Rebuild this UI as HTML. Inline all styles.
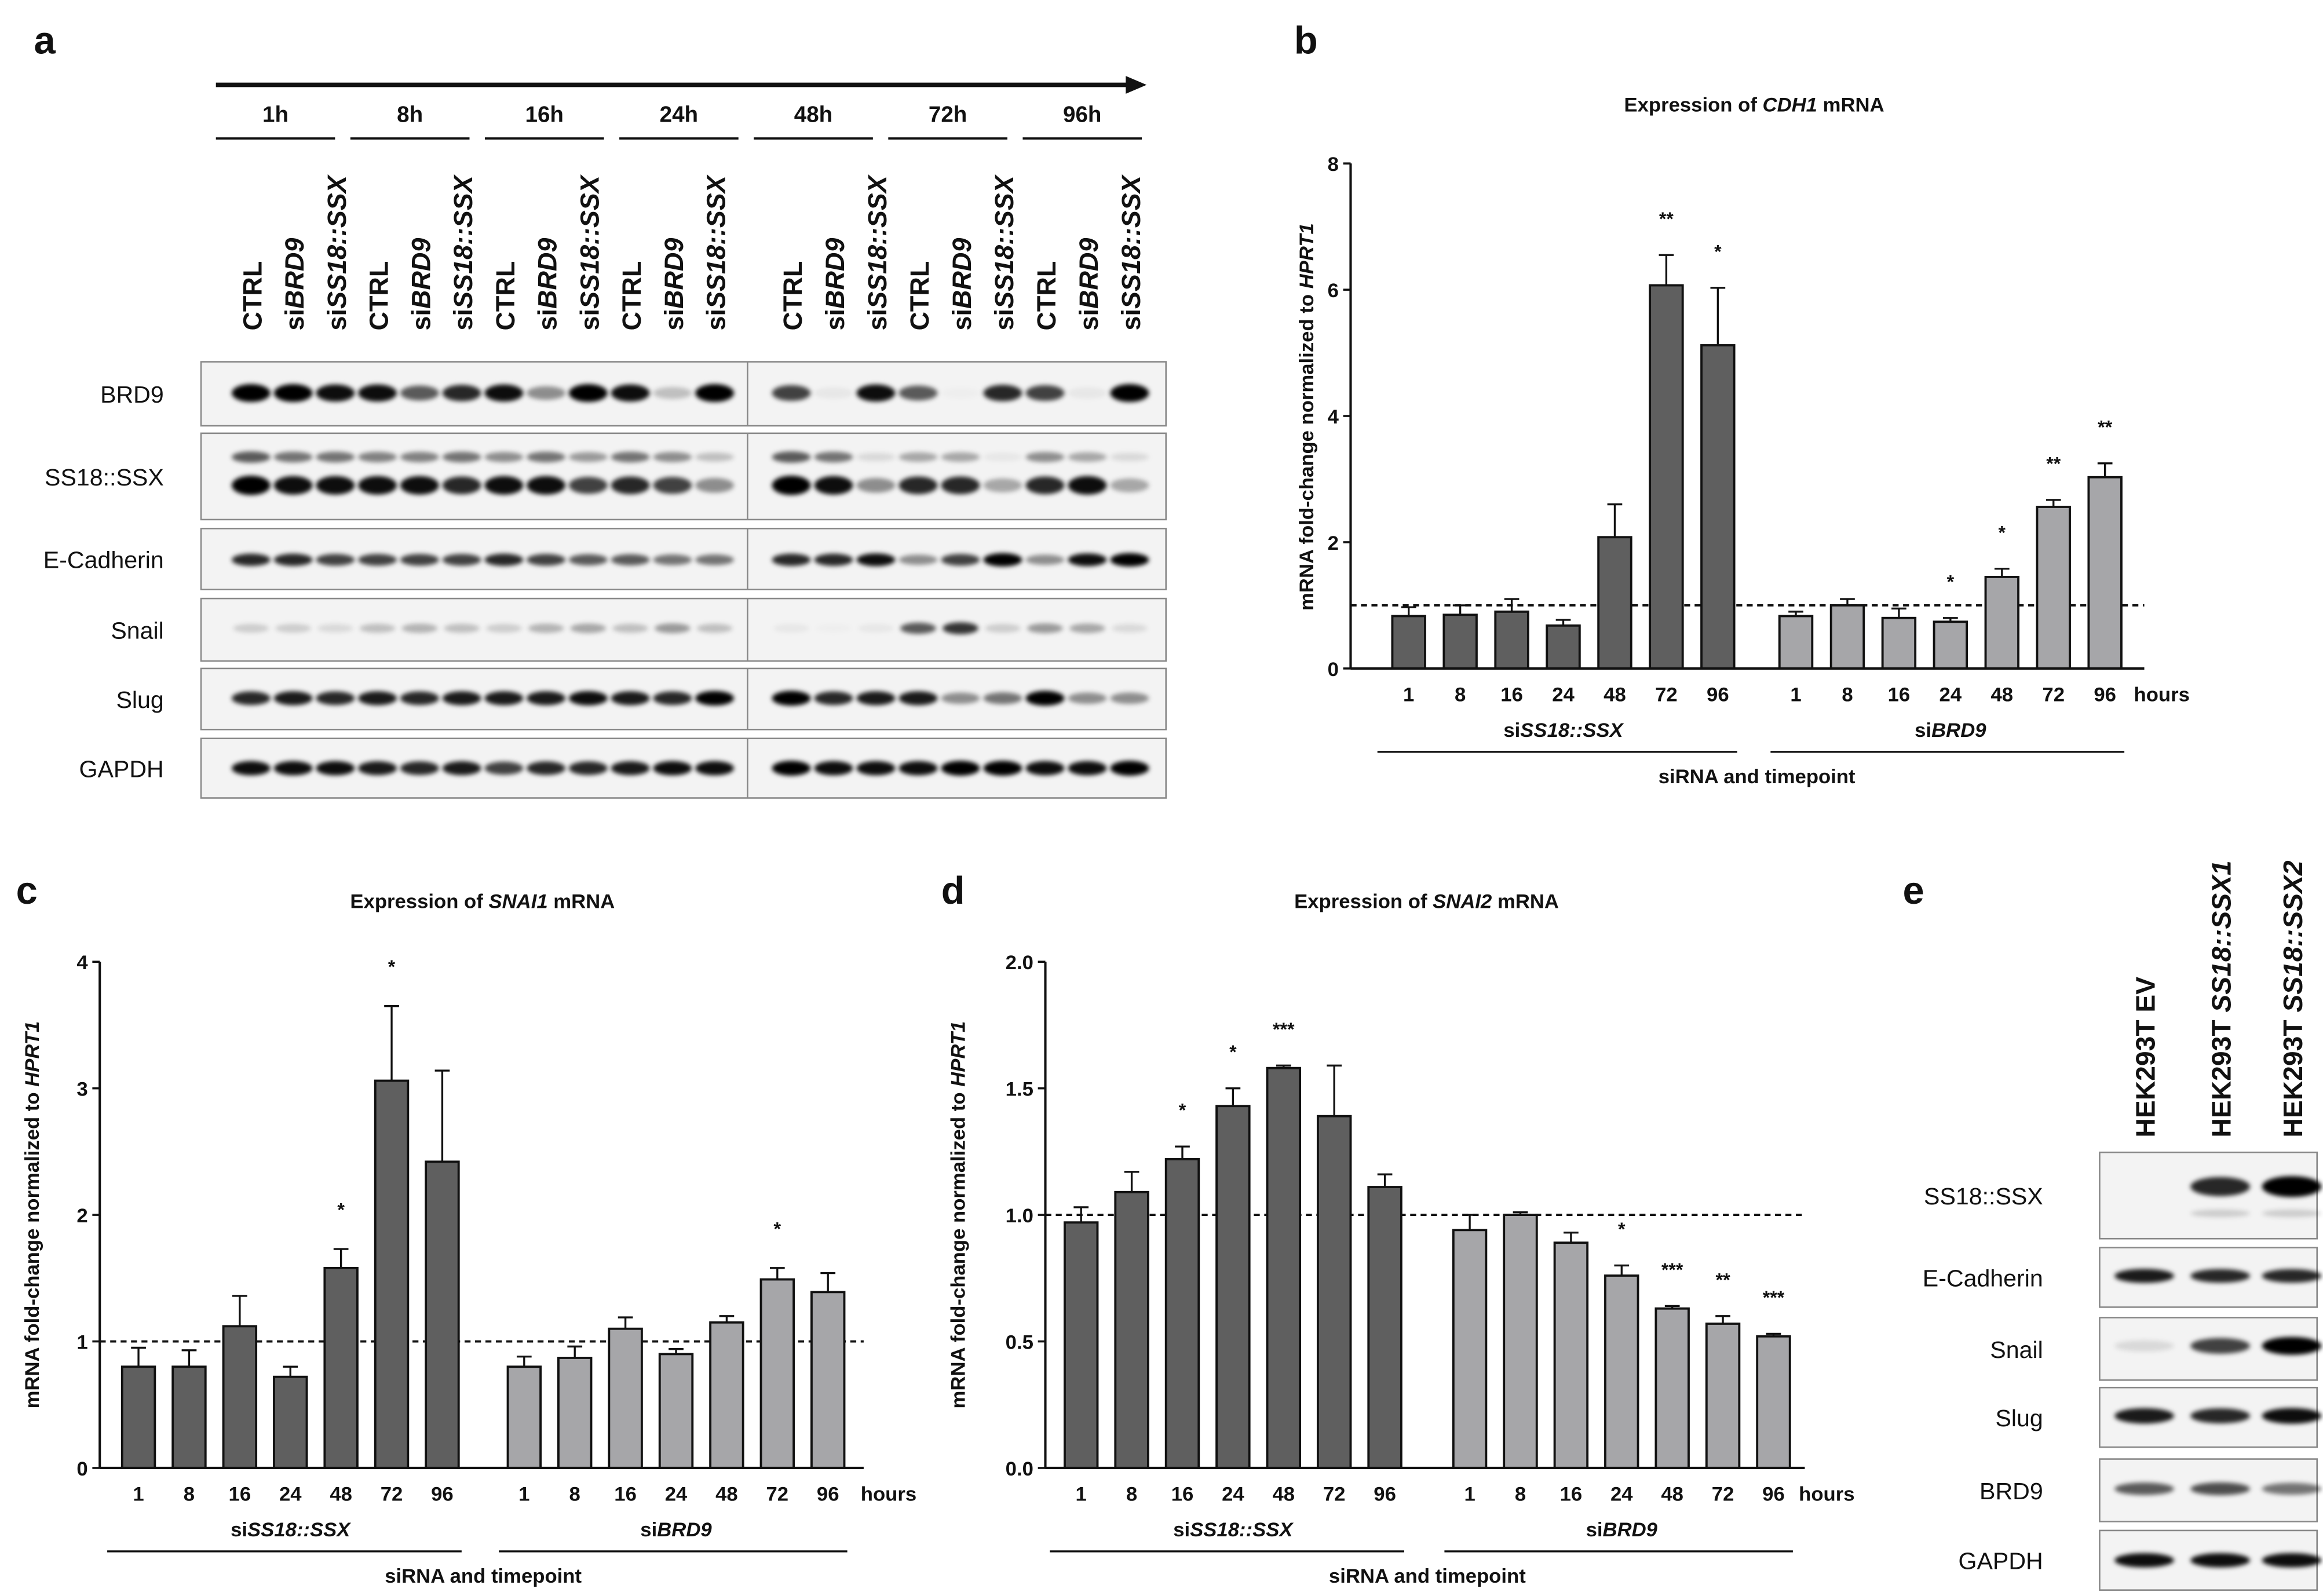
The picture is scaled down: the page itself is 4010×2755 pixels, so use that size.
<!DOCTYPE html>
<html><head><meta charset="utf-8"><style>
html,body{margin:0;padding:0;background:#fff;}
svg{display:block;}
text{font-family:"Liberation Sans",Arial,sans-serif;}
</style></head><body>
<svg id="fig" xmlns="http://www.w3.org/2000/svg" width="4010" height="2755" viewBox="0 0 1560 1072" preserveAspectRatio="none">
<defs><filter id="blur" x="-50%" y="-100%" width="200%" height="300%"><feGaussianBlur stdDeviation="1.6"/></filter></defs>
</svg>
<script>
// ===== chart data =====
const hours = ["1","8","16","24","48","72","96"];
const cdh1_ss = [0.83,0.85,0.9,0.68,2.08,6.07,5.12];
const cdh1_ss_err = [0.97,1.0,1.1,0.77,2.6,6.55,6.03];
const cdh1_brd = [0.83,1.0,0.8,0.74,1.45,2.56,3.03];
const cdh1_brd_err = [0.9,1.1,0.95,0.8,1.58,2.67,3.25];
const cdh1_ss_sig = ["","","","","","**","*"];
const cdh1_brd_sig = ["","","","*","*","**","**"];
const cdh1_ticks = ["0","2","4","6","8"];
const snai1_ss = [0.8,0.8,1.12,0.72,1.58,3.06,2.42];
const snai1_ss_err = [0.95,0.93,1.36,0.8,1.73,3.65,3.14];
const snai1_brd = [0.8,0.87,1.1,0.9,1.15,1.49,1.39];
const snai1_brd_err = [0.88,0.96,1.19,0.94,1.2,1.58,1.54];
const snai1_ss_sig = ["","","","","*","*",""];
const snai1_brd_sig = ["","","","","","*",""];
const snai1_ticks = ["0","1","2","3","4"];
const snai2_ss = [0.97,1.09,1.22,1.43,1.58,1.39,1.11];
const snai2_ss_err = [1.03,1.17,1.27,1.5,1.59,1.59,1.16];
const snai2_brd = [0.94,1.0,0.89,0.76,0.63,0.57,0.52];
const snai2_brd_err = [1.0,1.01,0.93,0.8,0.64,0.6,0.53];
const snai2_ss_sig = ["","","*","*","***","",""];
const snai2_brd_sig = ["","","","*","***","**","***"];
const snai2_ticks = ["0.0","0.5","1.0","1.5","2.0"];
// blot band intensities (0-1)
const blot_brd9 = [1,1,0.9,0.9,0.6,0.8,0.9,0.4,1,0.9,0.2,1, 0.7,0.05,0.9,0.6,0.02,0.8,0.7,0.05,1];
const blot_ss_low = [1,.9,.9,.9,.9,.8,.9,.9,.7,.8,.7,.4, 1,.9,.4,.8,.8,.3,.8,.9,.3];
const blot_ss_up = [.6,.5,.5,.45,.45,.5,.4,.5,.35,.5,.4,.2, .6,.5,.1,.3,.3,.05,.4,.3,.1];
const blot_ecad = [.8,.8,.7,.7,.7,.7,.8,.7,.6,.6,.5,.5, .8,.8,.9,.4,.7,1,.4,.9,1];
const blot_snail = [.15,.15,.1,.2,.25,.2,.15,.25,.3,.2,.35,.2, .05,.02,.05,.6,.75,.15,.35,.3,.1];
const blot_slug = [.8,.85,.8,.85,.8,.85,.85,.85,.9,.85,.8,.95, 1,.8,.85,.85,.4,.5,1,.4,.4];
const blot_gapdh = [.9,.9,.9,.85,.8,.85,.7,.8,.8,.85,.9,.9, 1,.9,.9,.9,1,1,.9,.9,1];
const e_ss = [0,.8,1], e_ecad=[.85,.8,.8], e_snail=[.1,.7,1], e_slug=[.85,.8,.9], e_brd9=[.6,.65,.5], e_gapdh=[.9,.9,.9];

const NS="http://www.w3.org/2000/svg";
const svg=document.getElementById('fig');
function el(tag,attrs,parent,txt){const e=document.createElementNS(NS,tag);for(const k in attrs)e.setAttribute(k,attrs[k]);if(txt!==undefined)e.textContent=txt;(parent||svg).appendChild(e);return e;}
function T(x,y,s,size,opts,parent){opts=opts||{};const e=el('text',{x:x,y:y,'font-size':size,'font-weight':opts.w||'bold','text-anchor':opts.a||'middle',fill:'#111'},parent);
  if(opts.t)e.setAttribute('transform',opts.t);
  if(Array.isArray(s)){s.forEach(p=>{el('tspan',p[1]?{'font-style':'italic'}:{},e,p[0]);});}else e.textContent=s;return e;}

[["a",30,36],["b",877,36],["c",18,607],["d",640,607],["e",1285,607]].forEach(p=>{
  const t=T(p[1],p[2],p[0],26,{a:'middle'});
  
  
});

function chart(cfg){
  const g=el('g',{});
  
  
  const y=v=>cfg.y0-v*cfg.ppu;
  const title=T(cfg.tx,cfg.ty,cfg.title,13.5,{},g);
  
  
  const yl=T(cfg.ylx,cfg.ylc,[["mRNA fold-change normalized to ",0],["HPRT1",1]],13.5,{t:`rotate(-90 ${cfg.ylx} ${cfg.ylc})`},g);
  
  
  el('line',{x1:cfg.x0,x2:cfg.xend,y1:y(1),y2:y(1),stroke:'#111','stroke-width':1.5,'stroke-dasharray':'4,3'},g);
  const groups=[[cfg.ss,cfg.sse,cfg.sss,cfg.s1,'#5f5f5f','ss'],[cfg.brd,cfg.brde,cfg.brds,cfg.s2,'#a6a6a9','brd']];
  groups.forEach(gr=>{
    gr[0].forEach((v,i)=>{
      const cx=gr[3]+i*cfg.step, w=cfg.bw;
      const r=el('rect',{x:cx-w/2,y:y(v),width:w,height:cfg.y0-y(v),fill:gr[4],stroke:'#111','stroke-width':1.5},g);
      
      
      el('line',{x1:cx,x2:cx,y1:y(v),y2:y(gr[1][i]),stroke:'#111','stroke-width':1.3},g);
      el('line',{x1:cx-5,x2:cx+5,y1:y(gr[1][i]),y2:y(gr[1][i]),stroke:'#111','stroke-width':1.3},g);
      if(gr[2][i]){const s=T(cx,y(gr[1][i])-cfg.sigoff,gr[2][i],12.5,{},g);
        
        }
      const xl=T(cx,cfg.y0+22,hours[i],13.5,{},g);
      
      
    });
  });
  el('line',{x1:cfg.x0,x2:cfg.x0,y1:y(cfg.ymax),y2:cfg.y0,stroke:'#111','stroke-width':1.6},g);
  el('line',{x1:cfg.x0,x2:cfg.xend,y1:cfg.y0,y2:cfg.y0,stroke:'#111','stroke-width':1.6},g);
  cfg.ticks.forEach((t,i)=>{const v=i*cfg.ymax/(cfg.ticks.length-1);
    el('line',{x1:cfg.x0-5,x2:cfg.x0,y1:y(v),y2:y(v),stroke:'#111','stroke-width':1.4},g);
    const tl=T(cfg.x0-8,y(v)+5,t,13.5,{a:'end'},g);
    
    
  });
  const h=T(cfg.hx,cfg.y0+22,'hours',13.5,{a:'start'},g);
  
  
  const c1=(cfg.s1+cfg.s1+6*cfg.step)/2, c2=(cfg.s2+cfg.s2+6*cfg.step)/2;
  const gl1=T(c1,cfg.y0+46,[["si",0],["SS18::SSX",1]],13.5,{},g);
  
  
  const gl2=T(c2,cfg.y0+46,[["si",0],["BRD9",1]],13.5,{},g);
  
  
  el('line',{x1:cfg.s1-cfg.bw/2-10,x2:cfg.s1+6*cfg.step+cfg.bw/2+2,y1:cfg.y0+56,y2:cfg.y0+56,stroke:'#111','stroke-width':1.3},g);
  el('line',{x1:cfg.s2-cfg.bw/2-6,x2:cfg.s2+6*cfg.step+cfg.bw/2+2,y1:cfg.y0+56,y2:cfg.y0+56,stroke:'#111','stroke-width':1.3},g);
  const xt=T((c1+c2)/2,cfg.y0+77,'siRNA and timepoint',13.5,{},g);
  
  
}
chart({name:'chart-cdh1',title:[["Expression of ",0],["CDH1",1],[" mRNA",0]],tx:1178,ty:75,ylx:882,ylc:280,
  x0:907,xend:1440,y0:449,ppu:42.4,ymax:8,ticks:cdh1_ticks,s1:946,s2:1206,step:34.6,bw:22,hx:1433,sigoff:20,
  ss:cdh1_ss,sse:cdh1_ss_err,sss:cdh1_ss_sig,brd:cdh1_brd,brde:cdh1_brd_err,brds:cdh1_brd_sig});
chart({name:'chart-snai1',title:[["Expression of ",0],["SNAI1",1],[" mRNA",0]],tx:324,ty:610,ylx:26,ylc:816,
  x0:67,xend:580,y0:986,ppu:85,ymax:4,ticks:snai1_ticks,s1:93,s2:352,step:34,bw:22,hx:578,sigoff:22,
  ss:snai1_ss,sse:snai1_ss_err,sss:snai1_ss_sig,brd:snai1_brd,brde:snai1_brd_err,brds:snai1_brd_sig});
chart({name:'chart-snai2',title:[["Expression of ",0],["SNAI2",1],[" mRNA",0]],tx:958,ty:610,ylx:648,ylc:816,
  x0:702,xend:1212,y0:986,ppu:170,ymax:2,ticks:snai2_ticks,s1:726,s2:987,step:34,bw:22,hx:1208,sigoff:20,
  ss:snai2_ss,sse:snai2_ss_err,sss:snai2_ss_sig,brd:snai2_brd,brde:snai2_brd_err,brds:snai2_brd_sig});

// ===== panel a blot =====
const ga=el('g',{});


el('line',{x1:145,x2:758,y1:57,y2:57,stroke:'#111','stroke-width':3},ga);
el('polygon',{points:'756,51 770,57 756,63',fill:'#111'},ga);
const times=["1h","8h","16h","24h","48h","72h","96h"];
times.forEach((t,i)=>{const x0=145+i*90.3;
  const tl=T(x0+40,82,t,15,{},ga);
  
  
  el('line',{x1:x0,x2:x0+80,y1:93,y2:93,stroke:'#111','stroke-width':1.5},ga);});
const laneX=[];for(let i=0;i<12;i++)laneX.push(168.6+28.3*i);for(let i=0;i<9;i++)laneX.push(531.4+28.4*i);
const laneLbl=[[["CTRL",0]],[["si",0],["BRD9",1]],[["si",0],["SS18::SSX",1]]];
laneX.forEach((x,i)=>{const t=T(x+7,222,laneLbl[i%3],17.5,{a:'start',t:`rotate(-90 ${x+7} 222)`},ga);
  
  });
function blotRow(parent,name,y1,y2,lanes,rows,div,x1,x2,label,lx,bw){
  const g=el('g',{},parent);
  
  
  el('rect',{x:x1,y:y1,width:x2-x1,height:y2-y1,fill:'#f3f3f3',stroke:'#888','stroke-width':1},g);
  if(div)el('line',{x1:div,x2:div,y1:y1,y2:y2,stroke:'#888','stroke-width':1},g);
  rows.forEach(r=>{r[0].forEach((v,i)=>{if(v<=0)return;
    el('ellipse',{cx:lanes[i],cy:r[1],rx:bw,ry:r[2]*(0.6+0.4*v),fill:'#000','fill-opacity':Math.min(1,v*1.05),filter:'url(#blur)'},g);});});
  const t=T(lx,(y1+y2)/2+6,label,16,{a:'end',w:'normal'},g);
  
  
}
blotRow(ga,'brd9',243,286,laneX,[[blot_brd9,264,6]],502,135,783,'BRD9',110,13);
blotRow(ga,'ss18-ssx',291,349,laneX,[[blot_ss_up,307,4.5],[blot_ss_low,326,6.5]],502,135,783,'SS18::SSX',110,13);
blotRow(ga,'e-cadherin',355,396,laneX,[[blot_ecad,376,4.5]],502,135,783,'E-Cadherin',110,13);
blotRow(ga,'snail',402,444,laneX,[[blot_snail,422,4.5]],502,135,783,'Snail',110,12);
blotRow(ga,'slug',449,490,laneX,[[blot_slug,469,5]],502,135,783,'Slug',110,13);
blotRow(ga,'gapdh',496,536,laneX,[[blot_gapdh,516,5]],502,135,783,'GAPDH',110,13);

// ===== panel e =====
const ge=el('g',{});


const eLanes=[1440,1491,1539];
const eLbl=[[["HEK293T EV",0]],[["HEK293T ",0],["SS18::SSX1",1]],[["HEK293T ",0],["SS18::SSX2",1]]];
eLanes.forEach((x,i)=>{const t=T(x+7,764,eLbl[i],18,{a:'start',t:`rotate(-90 ${x+7} 764)`},ge);
  
  });
blotRow(ge,'e-ss18-ssx',774,832,eLanes,[[e_ss,797,7],[[0,.15,.15],815,4]],0,1410,1556,'SS18::SSX',1372,20);
blotRow(ge,'e-e-cadherin',838,878,eLanes,[[e_ecad,857,5]],0,1410,1556,'E-Cadherin',1372,20);
blotRow(ge,'e-snail',885,927,eLanes,[[e_snail,904,6]],0,1410,1556,'Snail',1372,20);
blotRow(ge,'e-slug',932,972,eLanes,[[e_slug,951,5.5]],0,1410,1556,'Slug',1372,20);
blotRow(ge,'e-brd9',980,1022,eLanes,[[e_brd9,1000,5]],0,1410,1556,'BRD9',1372,20);
blotRow(ge,'e-gapdh',1028,1068,eLanes,[[e_gapdh,1048,5]],0,1410,1556,'GAPDH',1372,20);
</script>
</body></html>
